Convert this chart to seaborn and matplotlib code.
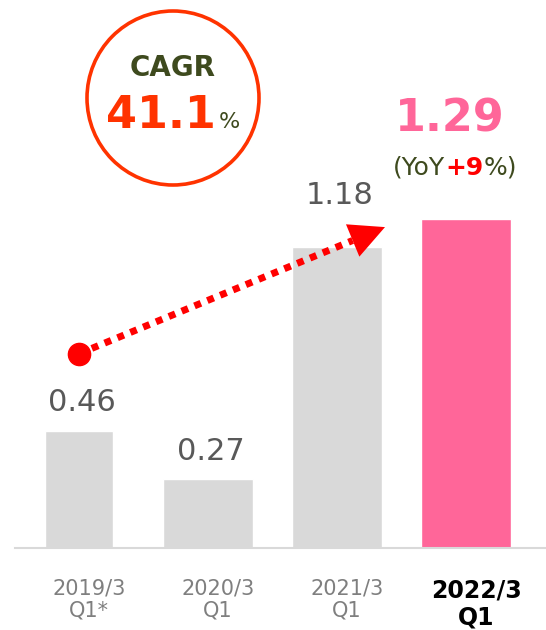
import matplotlib
matplotlib.use("Agg")
import numpy as np
import pandas as pd
import seaborn as sns
import matplotlib.pyplot as plt
import matplotlib.transforms as mtransforms
from matplotlib.patches import Ellipse
from matplotlib.offsetbox import TextArea, HPacker, AnnotationBbox

# data
periods = ["2019/3\nQ1*", "2020/3\nQ1", "2021/3\nQ1", "2022/3\nQ1"]
sales = [0.46, 0.27, 1.18, 1.29]
bar_colors = ["#D9D9D9", "#D9D9D9", "#D9D9D9", "#FF6699"]
cagr_label = "41.1"
yoy_label = "+9"

OLIVE = "#3E4A1E"
ORANGE = "#FF3300"
RED = "#FF0000"
PX_PER_UNIT = 255

sns.set_style("white")
plt.rcParams["font.family"] = ["DejaVu Sans"]

fig = plt.figure(figsize=(5.46, 6.3), dpi=100)
ax = fig.add_axes([15 / 546, 82 / 630, 531 / 546, 548 / 630])

df = pd.DataFrame({"period": periods, "sales": sales})
sns.barplot(data=df, x="period", y="sales", hue="period", palette=bar_colors,
            saturation=1, legend=False, ax=ax)

# first bar is drawn narrower in the original
for i, p in enumerate(ax.patches):
    w = 0.527 if i == 0 else 0.705
    p.set_width(w)
    p.set_x(i - w / 2)

ax.set_xlim(-0.496, 3.62)
ax.set_ylim(0, 548 / PX_PER_UNIT)
ax.set_xlabel("")
ax.set_ylabel("")
ax.set_yticks([])
for s in ["left", "top", "right"]:
    ax.spines[s].set_visible(False)
ax.spines["bottom"].set_color("#D9D9D9")
ax.spines["bottom"].set_linewidth(1.5)

ax.tick_params(axis="x", length=0, pad=22, labelsize=15, labelcolor="#7F7F7F")
shift = mtransforms.ScaledTranslation(10 / 100, 0, fig.dpi_scale_trans)
labels = ax.get_xticklabels()
for lbl in labels:
    lbl.set_transform(lbl.get_transform() + shift)
    lbl.set_linespacing(1.15)
labels[-1].set_fontweight("bold")
labels[-1].set_color("black")
labels[-1].set_fontsize(17)

# value labels on grey bars
offsets = [20, 20, 37]
for i in range(3):
    ax.annotate(f"{sales[i]:.2f}", (i, sales[i]), xytext=(2, offsets[i]),
                textcoords="offset points", ha="center", va="center",
                fontsize=22, color="#595959")

# highlight value and YoY
ax.annotate(f"{sales[3]:.2f}", (3, sales[3]), xytext=(-12, 72),
            textcoords="offset points", ha="center", va="center",
            fontsize=32, fontweight="bold", color="#FF6699")
yoy_box = HPacker(children=[
    TextArea("(YoY", textprops=dict(fontsize=18, color=OLIVE)),
    TextArea(yoy_label, textprops=dict(fontsize=18, color=RED, fontweight="bold")),
    TextArea("%)", textprops=dict(fontsize=18, color=OLIVE)),
], align="baseline", pad=0, sep=0)
ax.add_artist(AnnotationBbox(yoy_box, (3, sales[3]), xybox=(-8, 37),
                             boxcoords="offset points", frameon=False,
                             box_alignment=(0.5, 0.5)))

# growth arrow
trans = ax.transData
p0 = trans.transform((0, sales[0])) + np.array([0, 77])
tip = trans.transform((2, sales[2])) + np.array([48, 20])
d = (tip - p0) / np.linalg.norm(tip - p0)
base = tip - 35 * d
inv = trans.inverted()
p0d, based, tipd = inv.transform(p0), inv.transform(base), inv.transform(tip)
ax.plot([p0d[0], based[0]], [p0d[1], based[1]], color=RED, lw=5,
        linestyle=(0, (1, 1)), dash_capstyle="butt", zorder=5)
ax.plot([p0d[0]], [p0d[1]], "o", ms=16, color=RED, zorder=6)
ax.annotate("", xy=tipd, xytext=based,
            arrowprops=dict(arrowstyle="-|>,head_length=1.4,head_width=0.7",
                            mutation_scale=18, color=RED, lw=0,
                            shrinkA=0, shrinkB=0), zorder=6)

# CAGR badge
fig.add_artist(Ellipse((173 / 546, 1 - 98 / 630), 2 * 86 / 546, 2 * 87 / 630,
                       transform=fig.transFigure, fill=False,
                       edgecolor=ORANGE, lw=2.6))
fig.text(173 / 546, 1 - 68 / 630, "CAGR", ha="center", va="center",
         fontsize=20, fontweight="bold", color=OLIVE)
cagr_box = HPacker(children=[
    TextArea(cagr_label, textprops=dict(fontsize=32, fontweight="bold", color=ORANGE)),
    TextArea("%", textprops=dict(fontsize=16, color=OLIVE)),
], align="baseline", pad=0, sep=2)
fig.add_artist(AnnotationBbox(cagr_box, (173 / 546, 1 - 115 / 630),
                              xycoords="figure fraction", frameon=False,
                              box_alignment=(0.5, 0.5)))

fig.savefig("out.png", dpi=100)
